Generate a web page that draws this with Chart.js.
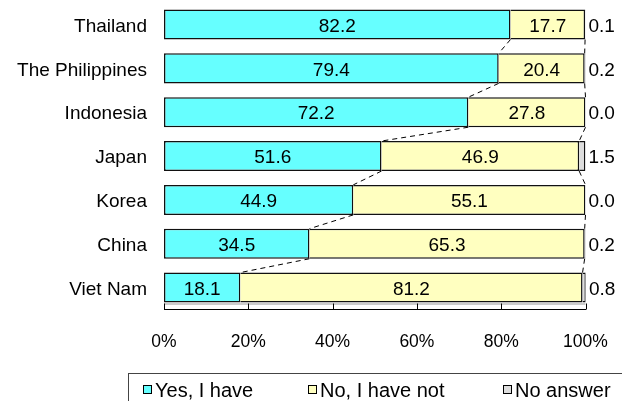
<!DOCTYPE html>
<html>
<head>
<meta charset="utf-8">
<script src="https://cdn.jsdelivr.net/npm/chart.js@4.4.0/dist/chart.umd.min.js"></script>
<style>
html, body { margin: 0; padding: 0; background: #fff; }
</style>
</head>
<body>
<canvas id="myChart" width="622" height="401"></canvas>
<script>
var countries = ['Thailand', 'The Philippines', 'Indonesia', 'Japan', 'Korea', 'China', 'Viet Nam'];
var yesHave = [82.2, 79.4, 72.2, 51.6, 44.9, 34.5, 18.1];
var noHaveNot = [17.7, 20.4, 27.8, 46.9, 55.1, 65.3, 81.2];
var noAnswer = [0.1, 0.2, 0.0, 1.5, 0.0, 0.2, 0.8];
var seriesNames = ['Yes, I have', 'No, I have not', 'No answer'];
var seriesColors = ['#66FFFF', '#FFFFC0', '#DDDDDD'];

var FONT = "'Liberation Sans', Arial, sans-serif";

// dashed series lines between bars + inward tick marks on the x axis
var seriesLines = {
    id: 'seriesLines',
    afterDatasetsDraw: function (chart) {
        var ctx = chart.ctx;
        ctx.save();
        ctx.strokeStyle = '#000';
        ctx.lineWidth = 1;
        ctx.setLineDash([5, 4]);
        [0, 1].forEach(function (d) {
            var bars = chart.getDatasetMeta(d).data;
            for (var i = 0; i < bars.length - 1; i++) {
                var a = bars[i], b = bars[i + 1];
                ctx.beginPath();
                ctx.moveTo(a.x, a.y + a.height / 2);
                ctx.lineTo(b.x, b.y - b.height / 2);
                ctx.stroke();
            }
        });
        ctx.setLineDash([]);
        var xs = chart.scales.x;
        var area = chart.chartArea;
        ctx.strokeStyle = '#999';
        ctx.beginPath();
        ctx.moveTo(area.left, area.bottom - 5.5);
        ctx.lineTo(area.right, area.bottom - 5.5);
        ctx.stroke();
        ctx.strokeStyle = '#000';
        xs.ticks.forEach(function (t) {
            var px = Math.round(xs.getPixelForValue(t.value)) + 0.5;
            ctx.beginPath();
            ctx.moveTo(px, area.bottom);
            ctx.lineTo(px, area.bottom - 6);
            ctx.stroke();
        });
        ctx.restore();
    }
};

var valueLabels = {
    id: 'valueLabels',
    afterDatasetsDraw: function (chart) {
        var ctx = chart.ctx;
        ctx.save();
        ctx.font = '19px ' + FONT;
        ctx.fillStyle = '#000';
        ctx.textBaseline = 'middle';
        chart.data.datasets.forEach(function (ds, d) {
            chart.getDatasetMeta(d).data.forEach(function (bar, i) {
                var txt = ds.data[i].toFixed(1);
                if (d < 2) {
                    ctx.textAlign = 'center';
                    ctx.fillText(txt, (bar.x + bar.base) / 2, bar.y + 2);
                } else {
                    ctx.textAlign = 'left';
                    ctx.fillText(txt, bar.x + 3, bar.y + 2);
                }
            });
        });
        ctx.restore();
    }
};

var boxLegend = {
    id: 'boxLegend',
    afterDraw: function (chart) {
        var ctx = chart.ctx;
        var itemX = [143, 308, 503];
        ctx.save();
        ctx.strokeStyle = '#444';
        ctx.lineWidth = 1;
        ctx.strokeRect(128.5, 373.5, 520, 40);
        ctx.font = '20px ' + FONT;
        ctx.textBaseline = 'middle';
        ctx.textAlign = 'left';
        chart.data.datasets.forEach(function (ds, d) {
            ctx.fillStyle = ds.backgroundColor;
            ctx.fillRect(itemX[d] + 0.5, 385.5, 8, 8);
            ctx.strokeStyle = '#000';
            ctx.strokeRect(itemX[d] + 0.5, 385.5, 8, 8);
            ctx.fillStyle = '#000';
            ctx.fillText(ds.label, itemX[d] + 12, 391);
        });
        ctx.restore();
    }
};

function noScalePadding(scale) {
    scale.paddingTop = 0;
    scale.paddingBottom = 0;
    scale.paddingLeft = 0;
    scale.paddingRight = 0;
}

var ctx1 = document.getElementById('myChart').getContext('2d');
var myChart = new Chart(ctx1, {
    type: 'bar',
    data: {
        labels: countries,
        datasets: [{
            label: seriesNames[0],
            data: yesHave,
            backgroundColor: seriesColors[0],
            borderColor: '#111',
            borderWidth: 1.5,
            borderSkipped: false
        },
        {
            label: seriesNames[1],
            data: noHaveNot,
            backgroundColor: seriesColors[1],
            borderColor: '#111',
            borderWidth: 1.5,
            borderSkipped: 'start'
        },
        {
            label: seriesNames[2],
            data: noAnswer,
            backgroundColor: seriesColors[2],
            borderColor: '#111',
            borderWidth: 1.5,
            borderSkipped: 'start'
        }]
    },
    options: {
        indexAxis: 'y',
        responsive: false,
        animation: false,
        barPercentage: 0.685,
        categoryPercentage: 1.0,
        layout: {
            autoPadding: false,
            padding: { top: 2.6, right: 36.5, bottom: 0, left: 0 }
        },
        scales: {
            x: {
                stacked: true,
                min: 0,
                max: 100,
                grid: { display: false, drawTicks: false },
                border: { display: true, color: '#000', width: 1 },
                ticks: {
                    stepSize: 20,
                    padding: 22,
                    color: '#000',
                    font: { family: FONT, size: 17.5 },
                    callback: function (v) { return v + '%'; }
                },
                afterFit: function (scale) {
                    scale.height = 91.5;
                    noScalePadding(scale);
                }
            },
            y: {
                stacked: true,
                grid: { display: false, drawTicks: false },
                border: { display: false },
                ticks: {
                    padding: 17,
                    labelOffset: 2,
                    color: '#000',
                    font: { family: FONT, size: 19 }
                },
                afterFit: function (scale) {
                    scale.width = 164;
                    noScalePadding(scale);
                }
            }
        },
        plugins: {
            legend: { display: false },
            tooltip: { enabled: false }
        }
    },
    plugins: [seriesLines, valueLabels, boxLegend]
});
</script>
</body>
</html>
